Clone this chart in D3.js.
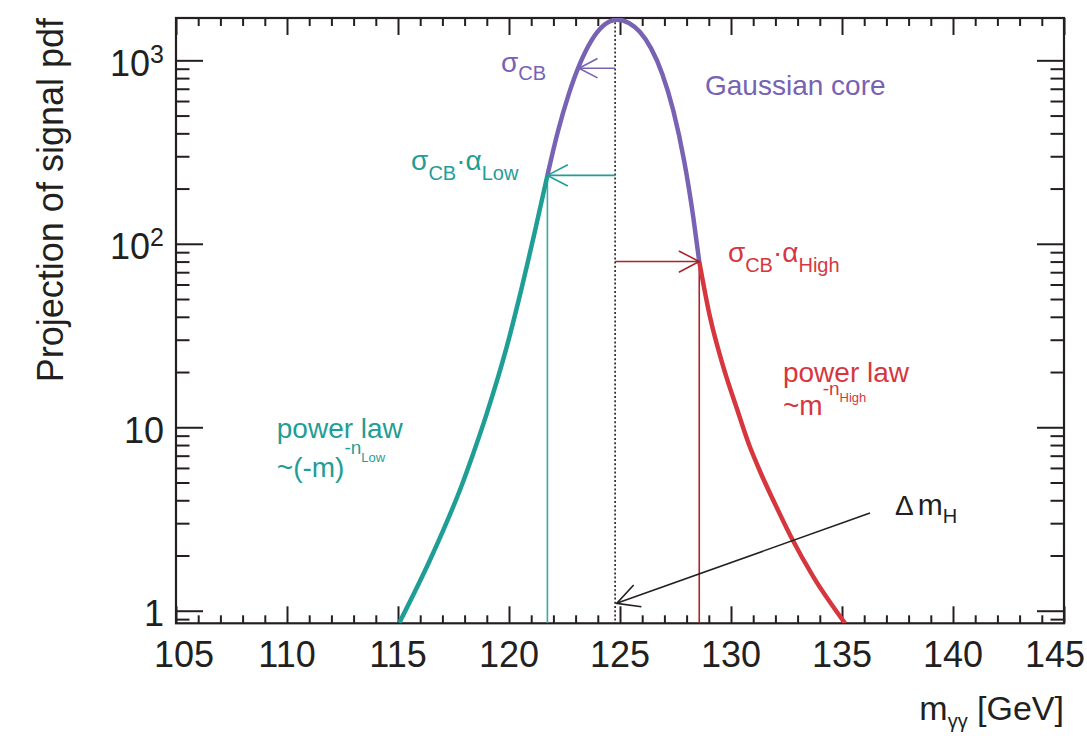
<!DOCTYPE html>
<html>
<head>
<meta charset="utf-8">
<script src="https://cdn.jsdelivr.net/npm/d3@7"></script>
<style>
body { margin: 0; background: #fff; }
svg { font-family: "Liberation Sans", Arial, Helvetica, sans-serif; }
.tick line { stroke: #231f20; stroke-width: 2; }
</style>
</head>
<body>
<svg id="chart" width="1087" height="736"></svg>
<script>
// values (mass in GeV, pdf projection)
var lowTailMass = [115.06, 116.44, 117.04, 117.79, 118.39, 118.99, 119.90, 120.50, 121.19, 121.73];
var lowTailPdf  = [0.86, 1.89, 2.75, 4.55, 7.2, 11.8, 27.5, 53, 120.5, 236];

var coreMass = [121.73, 122.2, 122.7, 123.2, 123.7, 124.2, 124.87, 125.4, 125.9, 126.4, 126.9, 127.4, 127.9, 128.3, 128.57];
var corePdf  = [236, 408, 658, 962, 1273, 1525, 1665, 1599, 1426, 1162, 846, 533, 279, 140, 80];

var highTailMass = [128.57, 129.05, 129.65, 130.26, 130.82, 131.31, 132.06, 132.73, 133.71, 135.14];
var highTailPdf  = [80, 40.1, 21.4, 12.7, 8.0, 5.74, 3.65, 2.49, 1.53, 0.854];

var xTickValues = [105, 110, 115, 120, 125, 130, 135, 140, 145];
var xTickLabels = ["105", "110", "115", "120", "125", "130", "135", "140", "145"];
var yTickValues = [1, 10, 100, 1000];
var yTickBase   = ["1", "10", "10", "10"];
var yTickExp    = ["", "", "2", "3"];

var mH = 124.78;
var lowEdge = 121.73, lowEdgePdf = 236;
var highEdge = 128.57, highEdgePdf = 80;
var sigmaMass = 123.15, sigmaPdf = 906;
var deltaFrom = [136.26, 3.41], deltaTo = [124.85, 1.097];

var purple = "#7862b4", teal = "#1f9e95", tealThin = "#35aaa6",
    red = "#d6373e", darkRed = "#a9232b", ink = "#231f20";

var margin = {top: 18, left: 176},
    width = 888, height = 605.3;

var svg = d3.select("#chart");
var g = svg.append("g")
    .attr("transform", "translate(" + margin.left + "," + margin.top + ")");

var x = d3.scaleLinear().domain([105, 145]).range([0, width]);
var y = d3.scaleLog().domain([0.854, 1701]).range([height, 0]);

// minor ticks
var xMinor = d3.range(105, 146).filter(function(d) { return d % 5 != 0; });
var yMinor = [0.9];
[1, 10, 100].forEach(function(dec) {
    for (var k = 2; k <= 9; k++) yMinor.push(k * dec);
});

function ticks(axis, tv, size, tr) {
    var a = g.append("g").attr("transform", tr)
        .call(axis.tickValues(tv).tickSize(-size).tickFormat(""));
    a.select(".domain").remove();
}
ticks(d3.axisBottom(x), xTickValues, 17, "translate(0," + height + ")");
ticks(d3.axisBottom(x), xMinor, 8, "translate(0," + height + ")");
ticks(d3.axisTop(x), xTickValues, 17, "translate(0,0)");
ticks(d3.axisTop(x), xMinor, 8, "translate(0,0)");
ticks(d3.axisLeft(y), yTickValues, 27, "translate(0,0)");
ticks(d3.axisLeft(y), yMinor, 13.5, "translate(0,0)");
ticks(d3.axisRight(y), yTickValues, 27, "translate(" + width + ",0)");
ticks(d3.axisRight(y), yMinor, 13.5, "translate(" + width + ",0)");

g.append("rect")
    .attr("width", width).attr("height", height)
    .attr("fill", "none").attr("stroke", ink).attr("stroke-width", 2.2);

// tick labels
g.selectAll(".xlab").data(xTickValues)
  .enter().append("text")
    .attr("class", "xlab")
    .attr("x", function(d, i) {
        var shift = i == 0 ? 8 : (i == xTickValues.length - 1 ? -9 : 0);
        return x(d) + shift;
    })
    .attr("y", height + 43.4)
    .attr("text-anchor", "middle")
    .attr("font-size", 36)
    .attr("fill", ink)
    .text(function(d, i) { return xTickLabels[i]; });

var ylab = g.selectAll(".ylab").data(yTickValues)
  .enter().append("text")
    .attr("class", "ylab")
    .attr("x", -12)
    .attr("y", function(d) { return y(d) + 15.5; })
    .attr("text-anchor", "end")
    .attr("font-size", 36)
    .attr("fill", ink);
ylab.append("tspan").text(function(d, i) { return yTickBase[i]; });
ylab.append("tspan")
    .attr("font-size", 25)
    .attr("dy", -13)
    .text(function(d, i) { return yTickExp[i]; });

// axis titles
var xt = svg.append("text")
    .attr("x", 1064).attr("y", 720)
    .attr("text-anchor", "end")
    .attr("font-size", 34)
    .attr("fill", ink);
xt.append("tspan").text("m");
xt.append("tspan").attr("font-size", 20).attr("dy", 8).text("γγ");
xt.append("tspan").attr("dy", -8).text(" [GeV]");

svg.append("text")
    .attr("transform", "translate(63,18) rotate(-90)")
    .attr("text-anchor", "end")
    .attr("font-size", 36)
    .attr("fill", ink)
    .text("Projection of signal pdf");

// curves
g.append("clipPath").attr("id", "frame")
  .append("rect").attr("width", width).attr("height", height);

var line = d3.line()
    .x(function(d) { return x(d[0]); })
    .y(function(d) { return y(d[1]); })
    .curve(d3.curveMonotoneX);

var plot = g.append("g").attr("clip-path", "url(#frame)");

// vertical markers and the dotted mean line
plot.append("line")
    .attr("x1", x(mH)).attr("x2", x(mH))
    .attr("y1", 0).attr("y2", height)
    .attr("stroke", ink).attr("stroke-width", 1.6)
    .attr("stroke-dasharray", "2,2.2");
plot.append("line")
    .attr("x1", x(lowEdge)).attr("x2", x(lowEdge))
    .attr("y1", y(lowEdgePdf)).attr("y2", height)
    .attr("stroke", tealThin).attr("stroke-width", 1.6);
plot.append("line")
    .attr("x1", x(highEdge)).attr("x2", x(highEdge))
    .attr("y1", y(highEdgePdf)).attr("y2", height)
    .attr("stroke", darkRed).attr("stroke-width", 1.6);

var segs = [
    {mass: lowTailMass, pdf: lowTailPdf, color: teal},
    {mass: coreMass, pdf: corePdf, color: purple},
    {mass: highTailMass, pdf: highTailPdf, color: red}
];
segs.forEach(function(s) {
    plot.append("path")
        .datum(s.mass.map(function(m, i) { return [m, s.pdf[i]]; }))
        .attr("d", line)
        .attr("fill", "none")
        .attr("stroke", s.color)
        .attr("stroke-width", 4.5)
        .attr("stroke-linecap", "butt");
});

// arrows with open heads
function arrow(x1, y1, x2, y2, color, head) {
    var p1 = [x(x1), y(y1)], p2 = [x(x2), y(y2)];
    var ang = Math.atan2(p2[1] - p1[1], p2[0] - p1[0]);
    var a = 0.48;
    g.append("line")
        .attr("x1", p1[0]).attr("y1", p1[1]).attr("x2", p2[0]).attr("y2", p2[1])
        .attr("stroke", color).attr("stroke-width", 1.6);
    var h1 = [p2[0] - head * Math.cos(ang - a), p2[1] - head * Math.sin(ang - a)];
    var h2 = [p2[0] - head * Math.cos(ang + a), p2[1] - head * Math.sin(ang + a)];
    g.append("path")
        .attr("d", "M" + h1 + "L" + p2 + "L" + h2)
        .attr("fill", "none").attr("stroke", color).attr("stroke-width", 1.6);
}
arrow(mH, sigmaPdf, sigmaMass, sigmaPdf, purple, 21);
arrow(mH, lowEdgePdf, lowEdge, lowEdgePdf, teal, 23);
arrow(mH, highEdgePdf, highEdge, highEdgePdf, darkRed, 23);
arrow(deltaFrom[0], deltaFrom[1], deltaTo[0], deltaTo[1], ink, 25);

// annotations; parts: [text, font size, baseline shift, extra gap]
function label(mx, py, color, parts) {
    var t = g.append("text")
        .attr("x", x(mx)).attr("y", y(py))
        .attr("fill", color);
    var cur = 0;
    parts.forEach(function(p) {
        t.append("tspan")
            .attr("font-size", p[1])
            .attr("dy", p[2] - cur)
            .attr("dx", p[3] || 0)
            .text(p[0]);
        cur = p[2];
    });
}
label(119.64, 865, purple, [["σ", 28, 0], ["CB", 20, 8]]);
label(128.83, 648, purple, [["Gaussian core", 28, 0]]);
label(115.59, 253, teal, [["σ", 28, 0], ["CB", 20, 10], ["·", 28, 0], ["α", 28, 0], ["Low", 20, 10]]);
label(129.86, 80, red, [["σ", 28, 0], ["CB", 20, 10], ["·", 28, 0], ["α", 28, 0], ["High", 20, 10]]);
label(132.34, 17.7, red, [["power law", 28, 0]]);
label(132.34, 11.7, red, [["~m", 28, 0], ["-n", 19, -19.5], ["High", 13, -13]]);
label(109.54, 8.71, teal, [["power law", 28, 0]]);
label(109.54, 5.38, teal, [["~(-m)", 28, 0], ["-n", 19, -23], ["Low", 13, -15]]);
label(137.39, 3.32, ink, [["Δ", 28, 0], ["m", 30, 0, 4], ["H", 20, 8]]);
</script>
</body>
</html>
